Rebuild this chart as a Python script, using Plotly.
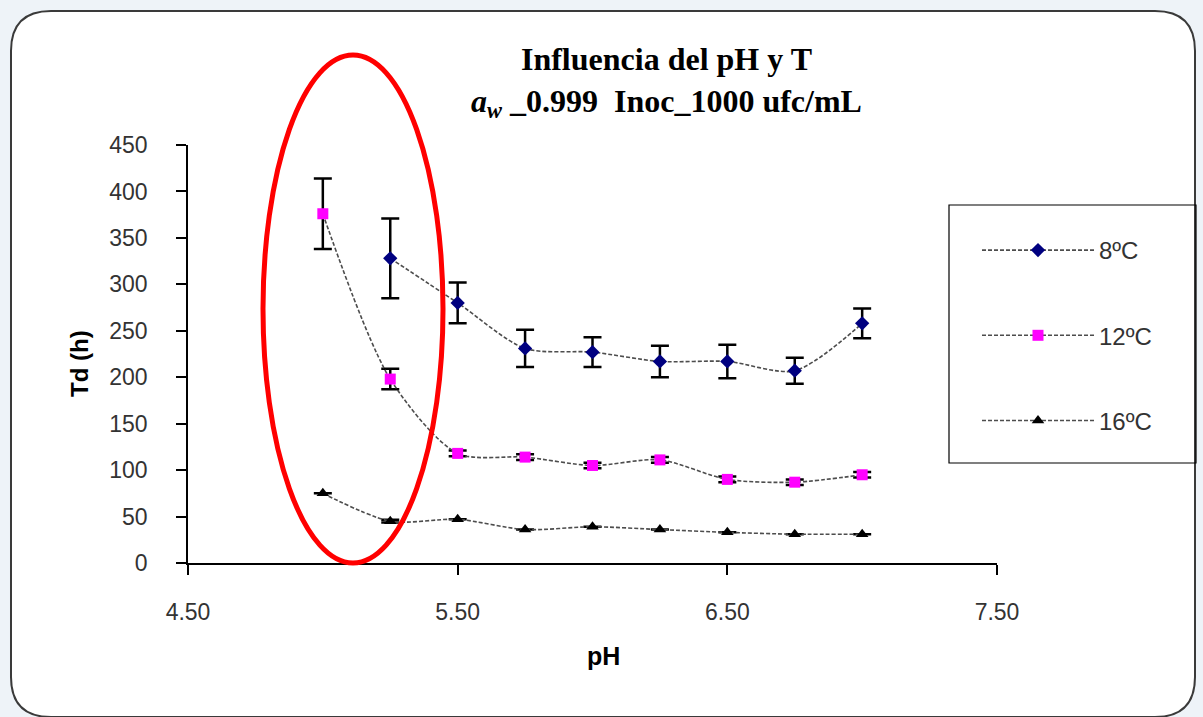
import plotly.graph_objects as go

# pH levels tested
ph = [5.00, 5.25, 5.50, 5.75, 6.00, 6.25, 6.50, 6.75, 7.00]

# Doubling time Td (h) per temperature, with standard deviations
td_8 = [None, 328, 280, 231, 227, 217, 217, 207, 258]
sd_8 = [None, 43, 22, 20, 16, 17, 18, 14, 16]

td_12 = [376, 198, 118, 114, 105, 111, 90, 87, 95]
sd_12 = [38, 11, 3, 3, 3, 3, 3, 3, 3]

td_16 = [75, 45, 47, 36, 39, 36, 33, 31, 31]
sd_16 = [None, 1.5, None, None, None, None, None, None, None]

series_names = ["8ºC", "12ºC", "16ºC"]
y_ticks = [0, 50, 100, 150, 200, 250, 300, 350, 400, 450]
x_ticks = [4.5, 5.5, 6.5, 7.5]

# plot-area geometry in pixels
L, T, W, H = 188, 145, 809, 418
FIG_W, FIG_H = 1203, 717


def px(x):
    return (x - L) / W


def py(y):
    return (T + H - y) / H


line_style = dict(color="#4d4d4d", width=1.6, dash="4px,2px", shape="spline", smoothing=0.8)
err_style = dict(type="data", visible=True, color="black", thickness=2.5, width=9)

fig = go.Figure()
fig.add_trace(go.Scatter(
    x=ph, y=td_8, name=series_names[0], mode="lines+markers", legendgroup="a",
    line=line_style, connectgaps=False,
    marker=dict(symbol="diamond", size=11, color="#000080"),
    error_y=dict(array=sd_8, **err_style),
))
fig.add_trace(go.Scatter(
    x=ph, y=td_12, name=series_names[1], mode="lines+markers", legendgroup="b",
    line=line_style,
    marker=dict(symbol="square", size=11, color="#ff00ff"),
    error_y=dict(array=sd_12, **err_style),
))
fig.add_trace(go.Scatter(
    x=ph, y=td_16, name=series_names[2], mode="lines+markers", legendgroup="c",
    line=line_style,
    marker=dict(symbol="triangle-up", size=11, color="black"),
    error_y=dict(array=sd_16, **err_style),
))


# rounded white panel behind the chart
def rounded_rect(x0, y0, x1, y1, r):
    pts = [
        ("M", px(x0 + r), py(y0)),
        ("L", px(x1 - r), py(y0)),
        ("Q", px(x1), py(y0), px(x1), py(y0 + r)),
        ("L", px(x1), py(y1 - r)),
        ("Q", px(x1), py(y1), px(x1 - r), py(y1)),
        ("L", px(x0 + r), py(y1)),
        ("Q", px(x0), py(y1), px(x0), py(y1 - r)),
        ("L", px(x0), py(y0 + r)),
        ("Q", px(x0), py(y0), px(x0 + r), py(y0)),
    ]
    parts = []
    for p in pts:
        nums = ",".join(f"{v:.5f}" for v in p[1:])
        parts.append(f"{p[0]}{nums}")
    return " ".join(parts) + " Z"


fig.add_shape(type="path", xref="paper", yref="paper", layer="below",
              path=rounded_rect(11, 11, 1195, 717, 40),
              fillcolor="white", line=dict(color="#3a3a3a", width=2))

# legend frame
fig.add_shape(type="rect", xref="paper", yref="paper",
              x0=px(949), x1=px(1196), y0=py(463), y1=py(205),
              line=dict(color="black", width=1.2), fillcolor="rgba(0,0,0,0)")

# highlight around the low-pH region
fig.add_shape(type="circle", xref="paper", yref="paper",
              x0=px(263), x1=px(443), y0=py(563), y1=py(55),
              line=dict(color="#ff0000", width=5))

fig.add_annotation(
    x=px(666), y=py(82), xref="paper", yref="paper", showarrow=False,
    xanchor="center", yanchor="middle", align="center",
    text="<b>Influencia del pH y T</b><br><b><i>a</i><sub><i>w</i></sub> _0.999  Inoc_1000 ufc/mL</b>",
    font=dict(family="Liberation Serif", size=32, color="black"),
)
fig.add_annotation(
    x=px(79), y=py(364), xref="paper", yref="paper", showarrow=False,
    xanchor="center", yanchor="middle",
    text="<b>Td (h)</b>", textangle=-90,
    font=dict(family="Liberation Sans", size=24, color="black"),
)
fig.add_annotation(
    x=px(603), y=py(656), xref="paper", yref="paper", showarrow=False,
    xanchor="center", yanchor="middle",
    text="<b>pH</b>",
    font=dict(family="Liberation Sans", size=25, color="black"),
)

fig.update_layout(
    width=FIG_W, height=FIG_H,
    margin=dict(l=L, r=FIG_W - L - W, t=T, b=FIG_H - T - H, pad=0),
    paper_bgcolor="#eef3f8",
    plot_bgcolor="rgba(0,0,0,0)",
    font=dict(family="Liberation Sans", size=23, color="#333333"),
    legend=dict(
        x=px(977), y=py(228), xanchor="left", yanchor="top",
        bgcolor="rgba(0,0,0,0)", borderwidth=0,
        font=dict(family="Liberation Sans", size=24, color="#333333"),
        itemwidth=112, tracegroupgap=51,
    ),
    xaxis=dict(
        range=[4.5, 7.5], tickvals=x_ticks, tickformat=".2f",
        showgrid=False, zeroline=False, showline=True, linecolor="black", linewidth=1.5,
        ticks="outside", ticklen=10, tickcolor="black", tickwidth=1.5,
        ticklabelstandoff=18,
    ),
    yaxis=dict(
        range=[0, 450], tickvals=y_ticks,
        showgrid=False, zeroline=False, showline=True, linecolor="black", linewidth=1.5,
        ticks="outside", ticklen=10, tickcolor="black", tickwidth=1.5,
        ticklabelstandoff=24,
    ),
)

fig.write_html("out.html")
